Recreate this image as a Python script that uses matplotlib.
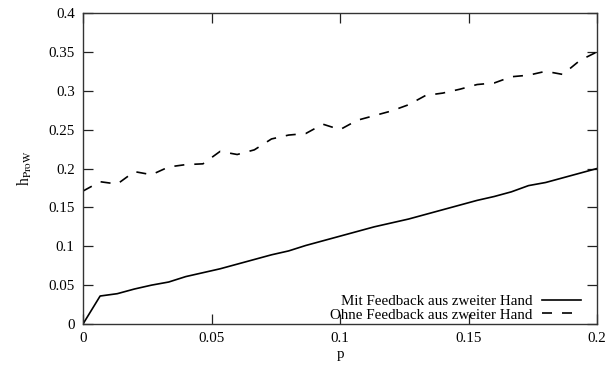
import numpy as np
import matplotlib
matplotlib.use("Agg")
import matplotlib.pyplot as plt
from matplotlib.ticker import MultipleLocator, FormatStrFormatter

plt.rcParams["font.family"] = ["Liberation Serif", "DejaVu Serif"]
plt.rcParams["mathtext.fontset"] = "stix"

# sampled at steps of 1/150 from 0 to 0.2
p = np.linspace(0.0, 0.2, 31)

mit_feedback = [
	0.000, 0.036, 0.039, 0.045, 0.050, 0.054, 0.061, 0.066, 0.071, 0.077,
	0.083, 0.089, 0.094, 0.101, 0.107, 0.113, 0.119, 0.125, 0.130, 0.135,
	0.141, 0.147, 0.153, 0.159, 0.164, 0.170, 0.178, 0.182, 0.188, 0.194,
	0.200,
]

ohne_feedback = [
	0.171, 0.183, 0.180, 0.196, 0.192, 0.202, 0.205, 0.206, 0.222, 0.218,
	0.224, 0.238, 0.243, 0.245, 0.257, 0.250, 0.262, 0.268, 0.274, 0.282,
	0.294, 0.297, 0.302, 0.308, 0.310, 0.318, 0.320, 0.325, 0.321, 0.339,
	0.350,
]

LABELS = ["Mit Feedback aus zweiter Hand", "Ohne Feedback aus zweiter Hand"]
FS = 10.8


def main():
	fig = plt.figure(figsize=(6.08, 3.65), dpi=100)
	ax = fig.add_axes([0.1365, 0.1123, 0.8455, 0.8521])

	ax.plot(p, mit_feedback, color="black", linewidth=1.2, label=LABELS[0])
	ax.plot(p, ohne_feedback, color="black", linewidth=1.2, dashes=(6, 6), label=LABELS[1])

	ax.set_xlim(0, 0.2)
	ax.set_ylim(0, 0.4)
	ax.xaxis.set_major_locator(MultipleLocator(0.05))
	ax.yaxis.set_major_locator(MultipleLocator(0.05))
	ax.xaxis.set_major_formatter(FormatStrFormatter("%g"))
	ax.yaxis.set_major_formatter(FormatStrFormatter("%g"))
	ax.tick_params(direction="in", length=7, width=0.9, top=True, right=True,
		labelsize=FS, colors="#222222", labelcolor="black", pad=6)
	for spine in ax.spines.values():
		spine.set_linewidth(1.0)
		spine.set_color("#333333")

	ax.set_xlabel("p", fontsize=FS, labelpad=2)
	ax.set_ylabel(r"h$_{\mathrm{ProW}}$", fontsize=FS + 0.5, labelpad=10)

	ax.legend(loc="lower right", markerfirst=False, frameon=False, fontsize=FS,
		handlelength=2.6, handletextpad=0.6, labelspacing=0.0,
		borderaxespad=0.0, bbox_to_anchor=(0.98, -0.012))

	fig.savefig("out.png", dpi=100)
	plt.close(fig)


if __name__ == "__main__":
	main()
